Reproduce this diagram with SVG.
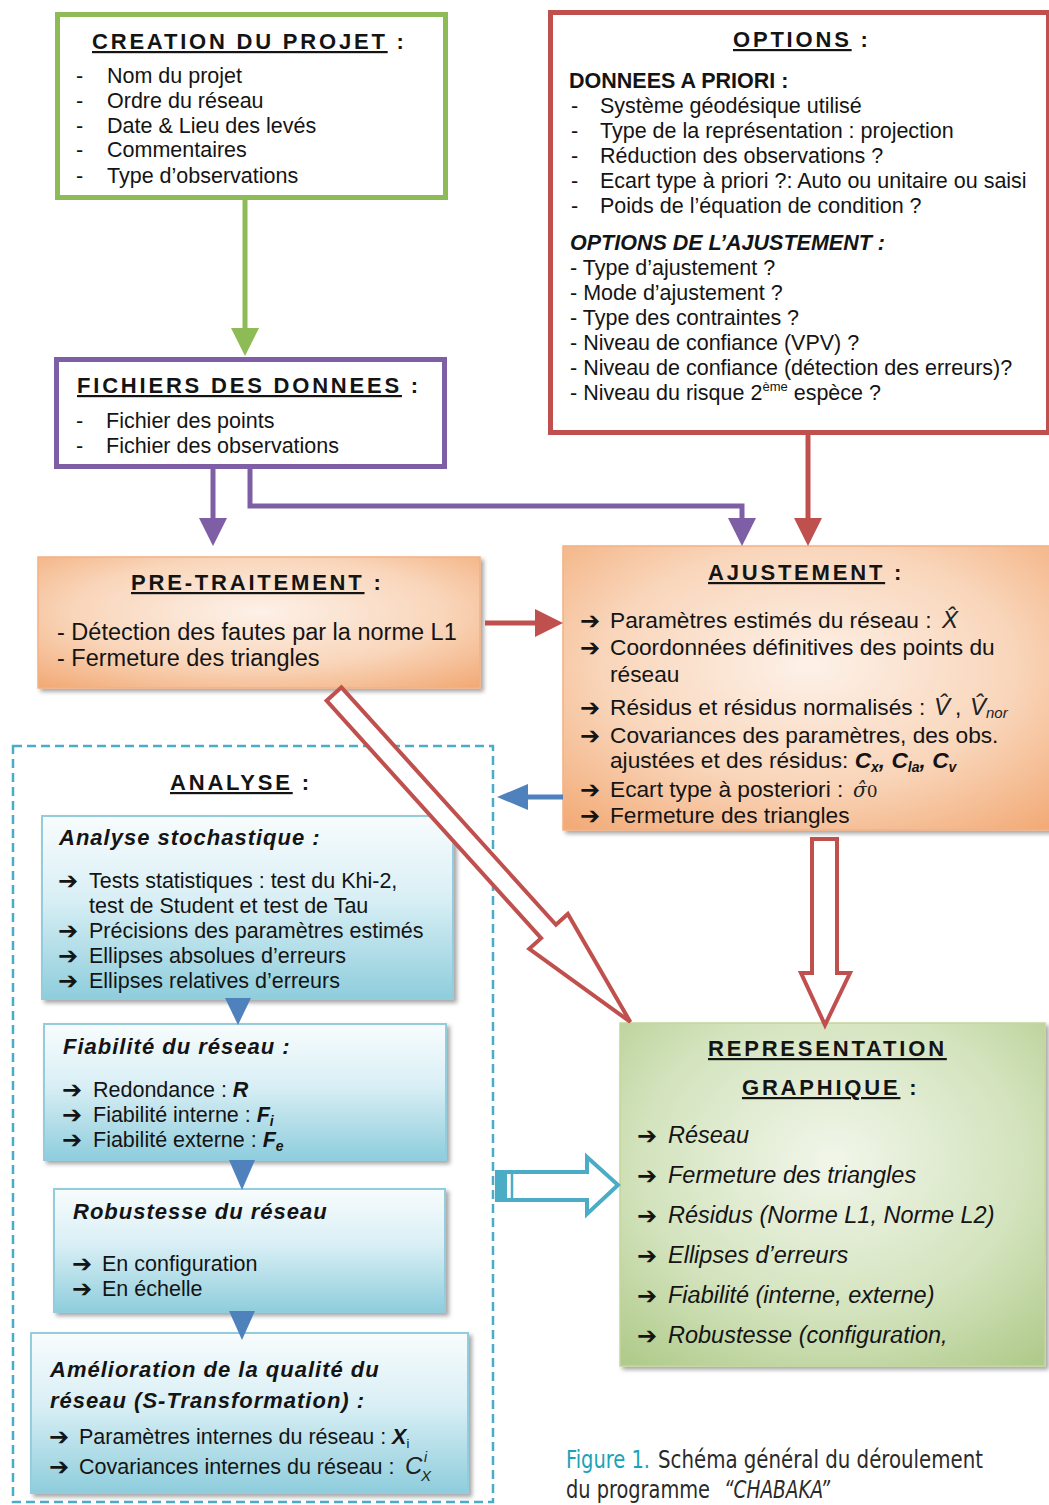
<svg xmlns="http://www.w3.org/2000/svg" width="1049" height="1505" viewBox="0 0 1049 1505">
<defs>
<style>
text{font-family:"Liberation Sans",Arial,sans-serif;fill:#141414}
.b{font-size:21.5px}
.h{font-size:22px;font-weight:bold;letter-spacing:2.8px}
.u{text-decoration:underline}
.bi{font-weight:bold;font-style:italic}
.sub{font-size:22px;font-weight:bold;font-style:italic;letter-spacing:1px}
.ar{font-family:"DejaVu Sans",sans-serif;font-weight:bold;font-size:24px}
.it{font-style:italic}
.aj{font-size:22.7px}
.rp{font-size:23.5px;font-style:italic}
.pt{font-size:23.5px}
.m{font-style:italic;fill:#222}
.cap{font-family:"Liberation Sans Narrow","DejaVu Sans Condensed","DejaVu Sans",sans-serif;font-stretch:condensed;font-size:25px;fill:#2a2a2a}
</style>
<filter id="sh" x="-5%" y="-5%" width="115%" height="115%">
<feDropShadow dx="3" dy="3" stdDeviation="2" flood-color="#000" flood-opacity="0.35"/>
</filter>
<radialGradient id="og" cx="50%" cy="42%" r="75%">
<stop offset="0" stop-color="#fdf1e8"/>
<stop offset="0.55" stop-color="#f9d6bb"/>
<stop offset="1" stop-color="#f2aa76"/>
</radialGradient>
<linearGradient id="bg" x1="0" y1="0" x2="0" y2="1">
<stop offset="0" stop-color="#f8fcfd"/>
<stop offset="0.45" stop-color="#d9eff5"/>
<stop offset="1" stop-color="#8ecddc"/>
</linearGradient>
<radialGradient id="gg" cx="50%" cy="40%" r="75%">
<stop offset="0" stop-color="#f1f6ea"/>
<stop offset="0.6" stop-color="#d3e3bd"/>
<stop offset="1" stop-color="#b1cb8c"/>
</radialGradient>
</defs>
<rect width="1049" height="1505" fill="#fff"/>

<g id="creation">
<rect x="57.5" y="14.5" width="388" height="183" fill="#fff" stroke="#8dbb55" stroke-width="5"/>
<text class="h" x="92" y="49"><tspan class="u">CREATION DU PROJET</tspan> :</text>
<text class="b" x="76" y="83">-</text><text class="b" x="107" y="83">Nom du projet</text>
<text class="b" x="76" y="108">-</text><text class="b" x="107" y="108">Ordre du réseau</text>
<text class="b" x="76" y="133">-</text><text class="b" x="107" y="133">Date &amp; Lieu des levés</text>
<text class="b" x="76" y="157">-</text><text class="b" x="107" y="157">Commentaires</text>
<text class="b" x="76" y="183">-</text><text class="b" x="107" y="183">Type d’observations</text>
</g>

<g id="options">
<rect x="550.5" y="12.5" width="498" height="420" fill="#fff" stroke="#c0504d" stroke-width="5"/>
<text class="h" x="733" y="47"><tspan class="u">OPTIONS</tspan> :</text>
<text class="b" x="569" y="88" font-weight="bold">DONNEES A PRIORI :</text>
<text class="b" x="571" y="113">-</text><text class="b" x="600" y="113">Système géodésique utilisé</text>
<text class="b" x="571" y="138">-</text><text class="b" x="600" y="138">Type de la représentation : projection</text>
<text class="b" x="571" y="163">-</text><text class="b" x="600" y="163">Réduction des observations ?</text>
<text class="b" x="571" y="188">-</text><text class="b" x="600" y="188">Ecart type à priori ?: Auto ou unitaire ou saisi</text>
<text class="b" x="571" y="213">-</text><text class="b" x="600" y="213">Poids de l’équation de condition ?</text>
<text class="b bi" x="570" y="250">OPTIONS DE L’AJUSTEMENT :</text>
<text class="b" x="570" y="275">- Type d’ajustement ?</text>
<text class="b" x="570" y="300">- Mode d’ajustement ?</text>
<text class="b" x="570" y="325">- Type des contraintes ?</text>
<text class="b" x="570" y="350">- Niveau de confiance (VPV) ?</text>
<text class="b" x="570" y="375">- Niveau de confiance (détection des erreurs)?</text>
<text class="b" x="570" y="400">- Niveau du risque 2<tspan font-size="13" dy="-9">ème</tspan><tspan dy="9"> espèce ?</tspan></text>
</g>

<g id="fichiers">
<rect x="56.5" y="359.5" width="388" height="107" fill="#fff" stroke="#7e5ea5" stroke-width="5"/>
<text class="h" x="77" y="393"><tspan class="u">FICHIERS DES DONNEES</tspan> :</text>
<text class="b" x="76" y="428">-</text><text class="b" x="106" y="428">Fichier des points</text>
<text class="b" x="76" y="453">-</text><text class="b" x="106" y="453">Fichier des observations</text>
</g>

<g id="pretraitement">
<rect x="38" y="557" width="442" height="131" fill="url(#og)" stroke="#f4b183" stroke-width="1.5" filter="url(#sh)"/>
<text class="h" x="131" y="590"><tspan class="u">PRE-TRAITEMENT</tspan> :</text>
<text class="pt" x="57" y="640">- Détection des fautes par la norme L1</text>
<text class="pt" x="57" y="666">- Fermeture des triangles</text>
</g>

<g id="ajustement">
<rect x="563" y="546" width="492" height="284" fill="url(#og)" stroke="#f4b183" stroke-width="1.5" filter="url(#sh)"/>
<text class="h" x="708" y="580"><tspan class="u">AJUSTEMENT</tspan> :</text>
<text class="ar" x="580" y="629">➔</text><text class="aj" x="610" y="628">Paramètres estimés du réseau : <tspan x="942" class="m" font-size="24">X̂</tspan></text>
<text class="ar" x="580" y="656">➔</text><text class="aj" x="610" y="655">Coordonnées définitives des points du</text>
<text class="aj" x="610" y="682">réseau</text>
<text class="ar" x="580" y="716">➔</text><text class="aj" x="610" y="715">Résidus et résidus normalisés : <tspan x="934" class="m" font-size="24">V̂</tspan><tspan x="955">,</tspan><tspan x="970" class="m" font-size="24">V̂</tspan><tspan class="m" font-size="15" dy="3">nor</tspan></text>
<text class="ar" x="580" y="744">➔</text><text class="aj" x="610" y="743">Covariances des paramètres, des obs.</text>
<text class="aj" x="610" y="768">ajustées et des résidus: <tspan class="bi">C</tspan><tspan class="bi" font-size="14" dy="4">x</tspan><tspan class="bi" dy="-4">, C</tspan><tspan class="bi" font-size="14" dy="4">la</tspan><tspan class="bi" dy="-4">, C</tspan><tspan class="bi" font-size="14" dy="4">v</tspan></text>
<text class="ar" x="580" y="798">➔</text><text class="aj" x="610" y="797">Ecart type à posteriori : <tspan x="853" font-family="DejaVu Serif,serif" font-size="20" class="m">σ̂</tspan><tspan font-family="DejaVu Serif,serif" font-size="17" fill="#222">0</tspan></text>
<text class="ar" x="580" y="824">➔</text><text class="aj" x="610" y="823">Fermeture des triangles</text>
</g>

<g id="analyse">
<rect x="13" y="746" width="480" height="756" fill="none" stroke="#4bacc6" stroke-width="2.5" stroke-dasharray="9 5"/>
<text class="h" x="170" y="790"><tspan class="u">ANALYSE</tspan> :</text>
</g>

<g id="stochastique">
<rect x="42" y="816" width="411" height="183" fill="url(#bg)" stroke="#93cddd" stroke-width="2" filter="url(#sh)"/>
<text class="sub" x="59" y="845">Analyse stochastique :</text>
<text class="ar" x="58" y="889">➔</text><text class="b" x="89" y="888">Tests statistiques : test du Khi-2,</text>
<text class="b" x="89" y="913">test de Student et test de Tau</text>
<text class="ar" x="58" y="939">➔</text><text class="b" x="89" y="938">Précisions des paramètres estimés</text>
<text class="ar" x="58" y="964">➔</text><text class="b" x="89" y="963">Ellipses absolues d’erreurs</text>
<text class="ar" x="58" y="989">➔</text><text class="b" x="89" y="988">Ellipses relatives d’erreurs</text>
</g>

<g id="fiabilite">
<rect x="44" y="1024" width="402" height="136" fill="url(#bg)" stroke="#93cddd" stroke-width="2" filter="url(#sh)"/>
<text class="sub" x="63" y="1054">Fiabilité du réseau :</text>
<text class="ar" x="62" y="1098">➔</text><text class="b" x="93" y="1097">Redondance : <tspan class="bi">R</tspan></text>
<text class="ar" x="62" y="1123">➔</text><text class="b" x="93" y="1122">Fiabilité interne : <tspan class="bi">F</tspan><tspan class="bi" font-size="14" dy="4">i</tspan></text>
<text class="ar" x="62" y="1148">➔</text><text class="b" x="93" y="1147">Fiabilité externe : <tspan class="bi">F</tspan><tspan class="bi" font-size="14" dy="4">e</tspan></text>
</g>

<g id="robustesse">
<rect x="54" y="1189" width="391" height="123" fill="url(#bg)" stroke="#93cddd" stroke-width="2" filter="url(#sh)"/>
<text class="sub" x="73" y="1219">Robustesse du réseau</text>
<text class="ar" x="72" y="1272">➔</text><text class="b" x="102" y="1271">En configuration</text>
<text class="ar" x="72" y="1297">➔</text><text class="b" x="102" y="1296">En échelle</text>
</g>

<g id="amelioration">
<rect x="31" y="1333" width="437" height="160" fill="url(#bg)" stroke="#93cddd" stroke-width="2" filter="url(#sh)"/>
<text class="sub" x="50" y="1377">Amélioration de la qualité du</text>
<text class="sub" x="50" y="1408">réseau (S-Transformation) :</text>
<text class="ar" x="49" y="1445">➔</text><text class="b" x="79" y="1444">Paramètres internes du réseau : <tspan class="bi">X</tspan><tspan font-size="13" dy="4">i</tspan></text>
<text class="ar" x="49" y="1475">➔</text><text class="b" x="79" y="1474">Covariances internes du réseau : <tspan x="405" class="m" font-size="24">C</tspan><tspan x="424" y="1462" class="m" font-size="14">i</tspan><tspan x="421" y="1481" class="m" font-size="15">X</tspan></text>
</g>

<g id="representation">
<rect x="620" y="1023" width="425" height="343" fill="url(#gg)" stroke="#c3d69b" stroke-width="1.5" filter="url(#sh)"/>
<text class="h" x="708" y="1056"><tspan class="u">REPRESENTATION</tspan></text>
<text class="h" x="742" y="1095"><tspan class="u">GRAPHIQUE</tspan> :</text>
<text class="ar" x="637" y="1144">➔</text><text class="rp" x="668" y="1143">Réseau</text>
<text class="ar" x="637" y="1184">➔</text><text class="rp" x="668" y="1183">Fermeture des triangles</text>
<text class="ar" x="637" y="1224">➔</text><text class="rp" x="668" y="1223">Résidus (Norme L1, Norme L2)</text>
<text class="ar" x="637" y="1264">➔</text><text class="rp" x="668" y="1263">Ellipses d’erreurs</text>
<text class="ar" x="637" y="1304">➔</text><text class="rp" x="668" y="1303">Fiabilité (interne, externe)</text>
<text class="ar" x="637" y="1344">➔</text><text class="rp" x="668" y="1343">Robustesse (configuration,</text>
</g>

<g id="connectors">
<line x1="245" y1="199" x2="245" y2="330" stroke="#8dbb55" stroke-width="5"/>
<polygon points="231,328 259,328 245,356" fill="#8dbb55"/>
<line x1="213" y1="468" x2="213" y2="520" stroke="#7e5ea5" stroke-width="5"/>
<polygon points="199,518 227,518 213,546" fill="#7e5ea5"/>
<polyline points="250,468 250,506 742,506 742,520" fill="none" stroke="#7e5ea5" stroke-width="5"/>
<polygon points="728,518 756,518 742,546" fill="#7e5ea5"/>
<line x1="808" y1="434" x2="808" y2="520" stroke="#c0504d" stroke-width="5"/>
<polygon points="794,518 822,518 808,546" fill="#c0504d"/>
<line x1="485" y1="623" x2="537" y2="623" stroke="#c0504d" stroke-width="5"/>
<polygon points="535,609 535,637 563,623" fill="#c0504d"/>
<line x1="563" y1="797" x2="525" y2="797" stroke="#4f81bd" stroke-width="5"/>
<polygon points="528,784 528,810 497,797" fill="#4f81bd"/>
<polygon points="225,998 251,998 238,1025" fill="#4f81bd"/>
<polygon points="229,1160 255,1160 242,1190" fill="#4f81bd"/>
<polygon points="229,1311 255,1311 242,1340" fill="#4f81bd"/>
<polygon points="0,-10 320,-10 320,-26 442,0 320,26 320,10 0,10" transform="translate(334,694) rotate(47.9)" fill="#fff" stroke="#c0504d" stroke-width="4" stroke-linejoin="miter"/>
<polygon points="812,839 837,839 837,973 850,973 825,1025 801,973 812,973" fill="#fff" stroke="#c0504d" stroke-width="4"/>
<polygon points="497,1172 587,1172 587,1157 618,1185 587,1214 587,1200 497,1200" fill="#fff" stroke="#4bacc6" stroke-width="4"/>
<rect x="497" y="1172" width="10" height="28" fill="#4bacc6"/>
<line x1="512" y1="1172" x2="512" y2="1200" stroke="#4bacc6" stroke-width="2.5"/>
</g>

<g id="caption">
<text class="cap" x="566" y="1468" textLength="84" lengthAdjust="spacingAndGlyphs" style="fill:#1aa3b8">Figure 1.</text>
<text class="cap" x="658" y="1468" textLength="325" lengthAdjust="spacingAndGlyphs">Schéma général du déroulement</text>
<text class="cap" x="566" y="1498" textLength="144" lengthAdjust="spacingAndGlyphs">du programme</text>
<text class="cap" x="724" y="1498" textLength="106" lengthAdjust="spacingAndGlyphs" font-style="italic">“CHABAKA”</text>
</g>
</svg>
